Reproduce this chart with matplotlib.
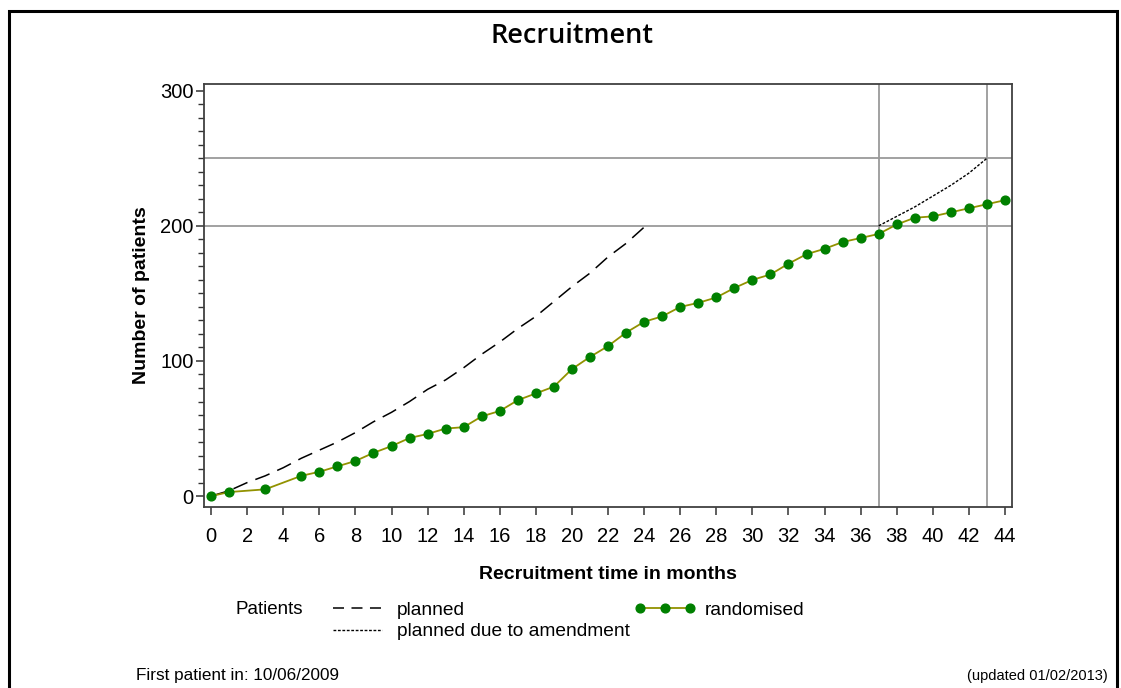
import numpy as np
import matplotlib.pyplot as plt
from matplotlib.lines import Line2D
from matplotlib.patches import Rectangle
from matplotlib.ticker import MultipleLocator

plt.rcParams['font.family'] = ['Liberation Sans', 'DejaVu Sans']

# Recruitment data
rand_month = [0, 1, 3, 5, 6, 7, 8, 9, 10, 11, 12, 13, 14, 15, 16, 17, 18, 19, 20, 21, 22,
              23, 24, 25, 26, 27, 28, 29, 30, 31, 32, 33, 34, 35, 36, 37, 38, 39, 40, 41, 42, 43, 44]
rand_count = [0, 3, 5, 15, 18, 22, 26, 32, 37, 43, 46, 50, 51, 59, 63, 71, 76, 81, 94, 103, 111,
              121, 129, 133, 140, 143, 147, 154, 160, 164, 172, 179, 183, 188, 191, 194, 201, 206, 207, 210, 213, 216, 219]

plan_month = list(range(0, 25))
plan_count = [0, 4, 10, 15, 21, 28, 34, 40, 47, 55, 62, 70, 79, 86, 95, 105, 114, 124, 133, 144, 155, 165, 177, 187, 199]

amend_month = [37, 38, 39, 40, 41, 42, 43]
amend_count = [200, 207, 214, 222, 230, 239, 250]

ref_y = [200, 250]
ref_x = [37, 43]

fig = plt.figure(figsize=(11.21, 6.88), dpi=100)
ax = fig.add_axes([0.182, 0.263, 0.7208, 0.615])

for yv in ref_y:
    ax.axhline(yv, color='#9a9a9a', lw=1.3, zorder=1)
for xv in ref_x:
    ax.axvline(xv, color='#9a9a9a', lw=1.3, zorder=1)

ax.plot(plan_month, plan_count, color='black', lw=1.1, dashes=(10, 5.5))
l_amend, = ax.plot(amend_month, amend_count, color='black', lw=1.0, dashes=(2, 1.2),
                   label='planned due to amendment')
l_rand, = ax.plot(rand_month, rand_count, color='#929200', lw=1.3, marker='o', ms=6.3,
                  mfc='#008000', mec='#008000', label='randomised', zorder=3)
# legend proxy so the sample shows three whole dashes
l_plan = Line2D([], [], color='black', lw=1.1, dashes=(7.2, 4.9))

ax.set_xlim(-0.39, 44.39)
ax.set_ylim(-8.1, 305)
ax.xaxis.set_major_locator(MultipleLocator(2))
ax.xaxis.set_minor_locator(MultipleLocator(1))
ax.yaxis.set_major_locator(MultipleLocator(100))
ax.yaxis.set_minor_locator(MultipleLocator(10))
ax.tick_params(which='major', length=6, width=1.1, color='#333333', labelsize=14.5)
ax.tick_params(axis='y', which='major', pad=1.5)
ax.tick_params(axis='x', which='major', pad=8.5)
ax.tick_params(which='minor', length=4, width=1.0, color='#333333')
ax.tick_params(axis='x', which='minor', length=0)
for s in ax.spines.values():
    s.set_color('#404040')
    s.set_linewidth(1.3)

ax.set_xlabel('Recruitment time in months', fontsize=14, fontweight='bold', labelpad=14)
ax.set_ylabel('Number of patients', fontsize=14, fontweight='bold', labelpad=7)

fig.text(0.510, 0.947, 'Recruitment', family=['Open Sans', 'DejaVu Sans'], fontsize=19.5,
         fontweight='semibold', ha='center', va='center')

blank = Line2D([], [], linestyle='none')
leg = fig.legend([l_plan, l_amend, l_rand, blank],
                 ['planned', 'planned due to amendment', 'randomised', ''],
                 ncol=2, loc='upper left', bbox_to_anchor=(0.2830, 0.140), frameon=False,
                 fontsize=13.8, handlelength=3.2, handletextpad=0.45, columnspacing=0.25,
                 labelspacing=0.22, borderpad=0, numpoints=3)
fig.text(0.210, 0.1145, 'Patients', fontsize=13.5, va='center')

fig.text(0.121, 0.018, 'First patient in: 10/06/2009', fontsize=12.3, va='center')
fig.text(0.988, 0.018, '(updated 01/02/2013)', fontsize=10.5, va='center', ha='right')

fig.patches.append(Rectangle((8.5 / 1121, -0.1), 1108 / 1121, 1.1 - 10.5 / 688,
                             transform=fig.transFigure, fill=False, ec='black', lw=2.2))

fig.savefig('out.png', dpi=100)
